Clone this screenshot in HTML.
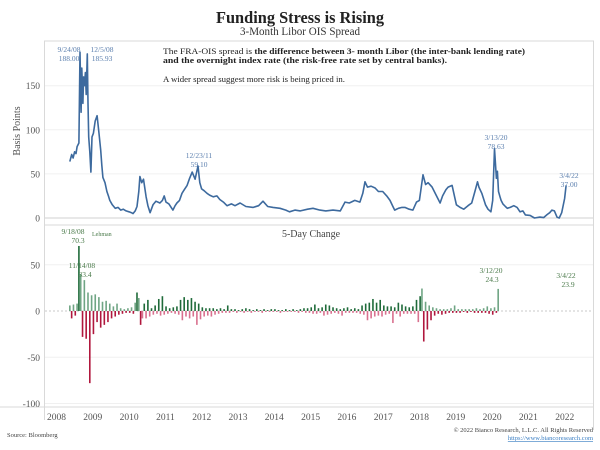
<!DOCTYPE html>
<html><head><meta charset="utf-8"><style>
html,body{margin:0;padding:0;background:#fff;}
svg{display:block;font-family:"Liberation Serif",serif;}
</style></head><body>
<svg id="chart" width="600" height="450" viewBox="0 0 600 450">
<g>
<text x="300" y="23" text-anchor="middle" font-size="17" font-weight="bold" fill="#222" textLength="168" lengthAdjust="spacingAndGlyphs">Funding Stress is Rising</text>
<text x="300" y="35" text-anchor="middle" font-size="11.5" fill="#333" textLength="120" lengthAdjust="spacingAndGlyphs">3-Month Libor OIS Spread</text>
</g>
<g stroke="#d9d9d9" fill="none">
<line x1="44" y1="41" x2="594" y2="41"/>
<line x1="593.5" y1="41" x2="593.5" y2="430"/>
<line x1="44.5" y1="41" x2="44.5" y2="420"/>
<line x1="44" y1="225" x2="594" y2="225"/>
<line x1="0" y1="407" x2="594" y2="407"/>
</g>
<g id="grid"></g>
<g id="series"></g>
<g id="axes"></g>
<g font-size="8.2" fill="#222">
<text x="163" y="54" textLength="362" lengthAdjust="spacingAndGlyphs">The FRA-OIS spread is <tspan font-weight="bold">the difference between 3- month Libor (the inter-bank lending rate)</tspan></text>
<text x="163" y="63" font-weight="bold" textLength="284" lengthAdjust="spacingAndGlyphs">and the overnight index rate (the risk-free rate set by central banks).</text>
<text x="163" y="82" textLength="182" lengthAdjust="spacingAndGlyphs">A wider spread suggest more risk is being priced in.</text>
</g>
<text transform="translate(20,131) rotate(-90)" text-anchor="middle" font-size="10" fill="#555">Basis Points</text>
<text x="311" y="237" text-anchor="middle" font-size="10" fill="#444">5-Day Change</text>
<g font-size="7.5" fill="#5b7fae" text-anchor="middle">
<text x="69" y="52">9/24/08</text><text x="69" y="61">188.00</text>
<text x="102" y="52">12/5/08</text><text x="102" y="61">185.93</text>
<text x="199" y="158">12/23/11</text><text x="199" y="167">59.10</text>
<text x="496" y="140">3/13/20</text><text x="496" y="149">78.63</text>
<text x="569" y="178">3/4/22</text><text x="569" y="187">37.00</text>
</g>
<g font-size="7.5" fill="#4a7a4a" text-anchor="middle">
<text x="73" y="234">9/18/08</text><text x="92" y="236" font-size="6" text-anchor="start">Lehman</text><text x="78" y="243">70.3</text>
<text x="82" y="268">11/14/08</text><text x="85" y="277">33.4</text>
<text x="491" y="273">3/12/20</text><text x="492" y="282">24.3</text>
<text x="566" y="278">3/4/22</text><text x="568" y="287">23.9</text>
</g>
<text x="7" y="437" font-size="6.5" fill="#444">Source: Bloomberg</text>
<text x="593" y="432" text-anchor="end" font-size="6.5" fill="#444">© 2022 Bianco Research, L.L.C. All Rights Reserved</text>
<text x="593" y="440" text-anchor="end" font-size="6.5" fill="#3b7fc4" text-decoration="underline">https://www.biancoresearch.com</text>
</svg>
<script>
const yearLabels = ["2008","2009","2010","2011","2012","2013","2014","2015","2016","2017","2018","2019","2020","2021","2022"];
const levelTicks = [0,50,100,150];
const changeTicks = [-100,-50,0,50];
const lvlDates = [2008.45,2008.5,2008.54,2008.58,2008.62,2008.65,2008.7,2008.73,2008.76,2008.78,2008.81,2008.83,2008.85,2008.88,2008.9,2008.93,2008.95,2008.97,2009.0,2009.03,2009.06,2009.1,2009.15,2009.2,2009.25,2009.3,2009.33,2009.36,2009.42,2009.47,2009.52,2009.55,2009.62,2009.7,2009.78,2009.85,2009.92,2010.0,2010.08,2010.15,2010.19,2010.25,2010.3,2010.35,2010.38,2010.43,2010.48,2010.55,2010.6,2010.66,2010.74,2010.82,2010.93,2011.0,2011.05,2011.1,2011.18,2011.29,2011.35,2011.4,2011.47,2011.54,2011.6,2011.68,2011.75,2011.82,2011.9,2011.98,2012.03,2012.08,2012.15,2012.23,2012.3,2012.4,2012.5,2012.58,2012.68,2012.78,2012.9,2013.0,2013.14,2013.3,2013.5,2013.65,2013.77,2013.9,2014.05,2014.24,2014.4,2014.5,2014.65,2014.8,2015.0,2015.15,2015.34,2015.5,2015.7,2015.9,2016.03,2016.15,2016.3,2016.44,2016.52,2016.58,2016.65,2016.75,2016.86,2016.95,2017.07,2017.18,2017.27,2017.35,2017.4,2017.5,2017.6,2017.68,2017.8,2017.9,2018.0,2018.08,2018.18,2018.25,2018.32,2018.43,2018.55,2018.65,2018.72,2018.81,2018.87,2018.98,2019.05,2019.1,2019.2,2019.3,2019.42,2019.52,2019.61,2019.68,2019.72,2019.8,2019.9,2019.97,2020.05,2020.1,2020.15,2020.2,2020.23,2020.26,2020.3,2020.33,2020.38,2020.45,2020.5,2020.58,2020.68,2020.77,2020.85,2020.93,2021.0,2021.13,2021.25,2021.4,2021.5,2021.6,2021.67,2021.73,2021.8,2021.87,2021.93,2022.0,2022.08,2022.12,2022.15,2022.17];
const lvlValues = [64,72,68,75,73,81,85,188,120,170,130,160,150,165,140,186,130,92,75,52,92,96,110,116,97,77,60,46,40,30,24,20,15,11,12,9,10,8,7,6,5,8,13,30,47,40,44,24,14,6,15,19,17,20,25,18,16,9,14,17,20,28,32,37,45,52,44,59,40,33,31,28,26,24,25,21,18,14,16,14,17,13,12,14,19,13,12,11,9,7,9,8,10,11,9,8,9,8,18,17,20,18,28,41,35,36,34,30,30,25,20,13,9,11,12,12,10,9,18,20,49,38,40,35,25,17,25,32,35,37,24,15,12,10,14,17,30,41,35,28,15,10,7,20,78.6,45,53,30,24,20,16,13,11,12,14,12,7,8,3.5,3,0,1,0.5,4,6,9,8,1,0,6,22,37];
const chgStart = 2008.45;
const chgStep = 0.05;
const chgValues = [6,-8,7,-5,8,70.3,40,-28,33.4,-30,20,-78,17,-25,18,-12,15,-18,10,-15,11,-12,8,-8,5,-6,8,-4,3,-3,2,-2,3,-2,4,-3,9,20,14,-15,-8,8,-8,12,-6,3,-4,6,-3,13,-5,16,-4,5,-3,3,-2,4,-3,5,-4,12,-10,15,-6,12,-8,14,-6,10,-15,8,-9,4,-6,3,-5,3,-6,3,-4,2,-3,3,-2,2,-2,6,-2,2,-1,2,-2,1,-1,2,-2,3,-1,2,-2,1,-1,2,-1,1,-2,2,-1,1,-1,2,-1,2,-1,1,-2,1,-1,2,-1,1,-1,2,-1,1,-2,2,-1,3,-2,3,-2,4,-3,7,-3,3,-2,4,-5,7,-4,6,-3,4,-2,3,-3,2,-5,3,-2,4,-2,2,-2,3,-2,2,-3,6,-4,8,-10,9,-8,13,-6,9,-5,12,-6,6,-4,5,-3,5,-13,4,-3,9,-6,7,-3,5,-3,4,-3,5,-3,12,-12,16,24.3,-33,10,-20,6,-10,4,-5,3,-3,2,-4,2,-3,2,-2,3,-2,6,-2,2,-2,2,-1,2,-2,2,-1,2,-2,3,-2,2,-2,3,-2,5,-3,3,-4,4,-2,23.9];

const NS = "http://www.w3.org/2000/svg";
function xScale(t){ return 80 + (t - 2008.73) * 36.3; }
function yLevel(v){ return 218 - v * 0.882; }
function yChange(v){ return 311 - v * 0.925; }
function mk(tag, attrs, parent){ const e = document.createElementNS(NS, tag); for (const k in attrs) e.setAttribute(k, attrs[k]); parent.appendChild(e); return e; }

const grid = document.getElementById('grid');
const axes = document.getElementById('axes');
const series = document.getElementById('series');

levelTicks.forEach(function(v){
  const ln = mk('line', {x1:45, x2:593, y1:yLevel(v), y2:yLevel(v), stroke: v===0 ? '#d0d0d0' : '#f0f0f0', 'stroke-width':1}, grid);
  
  
  const tx = mk('text', {x:40, y:yLevel(v)+3.5, 'text-anchor':'end', 'font-size':9.5, fill:'#555'}, axes);
  tx.textContent = String(v);
  
  
});
changeTicks.forEach(function(v){
  const ln = mk('line', {x1:45, x2:593, y1:yChange(v), y2:yChange(v), stroke: v===0 ? '#c8c8c8' : '#f0f0f0', 'stroke-width':1, 'stroke-dasharray': v===0 ? '2,2' : 'none'}, grid);
  
  
  const tx = mk('text', {x:40, y:yChange(v)+3.5, 'text-anchor':'end', 'font-size':9.5, fill:'#555'}, axes);
  tx.textContent = String(v);
  
  
});
yearLabels.forEach(function(y){
  const tx = mk('text', {x:xScale(+y)+3, y:420, 'text-anchor':'middle', 'font-size':9.5, fill:'#555'}, axes);
  tx.textContent = y;
  
  
});

chgValues.forEach(function(v, i){
  const t = chgStart + i * chgStep;
  const y0 = yChange(0), y1 = yChange(v);
  const pos = v >= 0;
  const col = pos ? (i % 2 ? '#1f6b3a' : '#6fa584') : (i % 2 ? '#b0173d' : '#d9718f');
  const r = mk('rect', {x:xScale(t)-0.8, width:1.6, y:Math.min(y0,y1), height:Math.max(0.6, Math.abs(y1-y0)), fill:col}, series);
  
  
});

let d = '';
lvlDates.forEach(function(t, i){ d += (i ? 'L' : 'M') + xScale(t).toFixed(1) + ',' + yLevel(lvlValues[i]).toFixed(1); });
const path = mk('path', {d:d, fill:'none', stroke:'#3d6a9e', 'stroke-width':1.6, 'stroke-linejoin':'round'}, series);


</script>
</body></html>
